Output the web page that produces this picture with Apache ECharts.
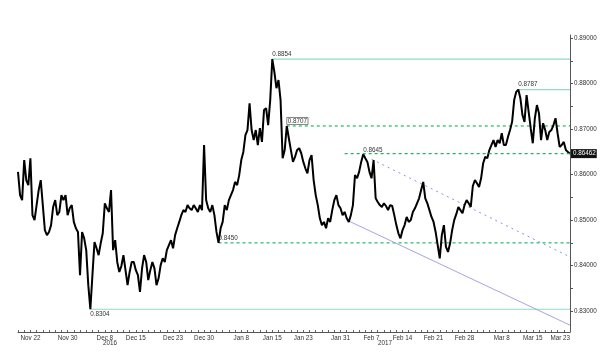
<!DOCTYPE html>
<html><head><meta charset="utf-8">
<script src="https://cdn.jsdelivr.net/npm/echarts@6/dist/echarts.min.js"></script>
<style>html,body{margin:0;padding:0;background:#fff}#c{width:600px;height:364px}</style>
</head><body><div id="c"></div>
<script>
// EUR/GBP, three slots per trading day, Nov 18 2016 - Mar 23 2017
const closes = [
0.8606,0.8555,0.8544,0.8632,0.8588,0.8577,0.8636,0.8511,0.8500,0.8533,
0.8566,0.8588,0.8533,0.8478,0.8467,0.8474,0.8489,0.8529,0.8544,0.8511,
0.8518,0.8555,0.8544,0.8555,0.8511,0.8526,0.8533,0.8496,0.8482,0.8474,
0.8379,0.8474,0.8460,0.8434,0.8357,0.8304,0.8379,0.8452,0.8438,0.8423,
0.8449,0.8471,0.8537,0.8526,0.8518,0.8566,0.8434,0.8456,0.8408,0.8386,
0.8399,0.8423,0.8390,0.8357,0.8386,0.8408,0.8408,0.8390,0.8379,0.8342,
0.8394,0.8423,0.8408,0.8368,0.8390,0.8408,0.8394,0.8357,0.8372,0.8401,
0.8416,0.8408,0.8434,0.8445,0.8456,0.8438,0.8467,0.8482,0.8496,0.8511,
0.8522,0.8518,0.8533,0.8526,0.8522,0.8533,0.8526,0.8518,0.8533,0.8522,
0.8665,0.8544,0.8526,0.8518,0.8533,0.8511,0.8474,0.8450,0.8482,0.8496,
0.8533,0.8522,0.8544,0.8555,0.8566,0.8584,0.8577,0.8599,0.8632,0.8650,
0.8687,0.8698,0.8757,0.8698,0.8676,0.8698,0.8665,0.8702,0.8672,0.8742,
0.8746,0.8709,0.8764,0.8854,0.8826,0.8790,0.8808,0.8764,0.8636,0.8654,
0.8707,0.8680,0.8654,0.8628,0.8639,0.8654,0.8658,0.8647,0.8628,0.8614,
0.8603,0.8632,0.8643,0.8588,0.8555,0.8533,0.8504,0.8489,0.8496,0.8482,
0.8504,0.8496,0.8522,0.8544,0.8555,0.8533,0.8526,0.8511,0.8518,0.8504,
0.8496,0.8511,0.8533,0.8599,0.8592,0.8606,0.8628,0.8645,0.8636,0.8628,
0.8606,0.8592,0.8632,0.8548,0.8540,0.8533,0.8529,0.8537,0.8531,0.8522,
0.8533,0.8531,0.8511,0.8489,0.8471,0.8460,0.8478,0.8489,0.8507,0.8496,
0.8500,0.8518,0.8526,0.8537,0.8548,0.8566,0.8584,0.8548,0.8537,0.8522,
0.8507,0.8496,0.8474,0.8445,0.8416,0.8467,0.8489,0.8441,0.8430,0.8449,
0.8478,0.8500,0.8513,0.8529,0.8522,0.8515,0.8533,0.8544,0.8537,0.8529,
0.8575,0.8588,0.8581,0.8573,0.8592,0.8625,0.8639,0.8636,0.8654,0.8665,
0.8676,0.8661,0.8676,0.8669,0.8691,0.8665,0.8665,0.8683,0.8698,0.8716,
0.8764,0.8782,0.8787,0.8768,0.8731,0.8716,0.8775,0.8738,0.8702,0.8669,
0.8724,0.8753,0.8735,0.8676,0.8713,0.8698,0.8676,0.8694,0.8698,0.8709,
0.8724,0.8691,0.8661,0.8665,0.8672,0.8654,0.8650,0.8646
];
const slotsPerDay = 3;
const tickLabels = ["Nov 22","Nov 30","Dec 8","Dec 15","Dec 23","Dec 30","Jan 8","Jan 15","Jan 23","Jan 31","Feb 7","Feb 14","Feb 21","Feb 28","Mar 8","Mar 15","Mar 23"];
const tickDays   = [2,8,14,19,25,30,36,41,46,52,57,62,67,72,78,83,89];
const yearLabels = ["2016","2017"];
const priceTicks = [0.83,0.84,0.85,0.86,0.87,0.88,0.89];
const priceMinorTicks = [0.835,0.845,0.855,0.865,0.875,0.885];
// horizontal levels: value, slot where the level starts
const levelValues = [0.8854,0.8787,0.8707,0.8646,0.8450,0.8304];
const levelStart  = [123,242,130,158,97,35];
const levelKinds  = ["solid","solid","dashed","dashed","dashed","solid"];
const highLabelValue = 0.8645, highLabelSlot = 167;
const lastPrice = 0.86462;
// trend lines [slot, value]
const trendSolid  = [[160,0.8498],[267,0.8269]];
const trendDashed = [[171,0.8634],[267,0.8419]];

const FONT = 'Liberation Sans';
const FS = 6.3;
const lastIdx = closes.length - 1;
const cats = closes.map((_, i) => String(i));
const labelMap = {};
tickDays.forEach((d, k) => { labelMap[Math.min(d * slotsPerDay, lastIdx)] = tickLabels[k]; });

const MINT = '#8fdcbf', GREEN = '#1fb864';

function segSeries(pts, lineStyle, label0, label1, z) {
  return {
    type: 'line', silent: true, z: z || 2, symbol: 'circle', symbolSize: 0.01, showSymbol: true, showAllSymbol: true,
    itemStyle: { color: 'rgba(0,0,0,0)' }, lineStyle: lineStyle,
    data: pts.map((p, i) => {
      const o = { value: p };
      const lb = i === 0 ? label0 : label1;
      o.label = lb ? Object.assign({ show: true, fontSize: FS, fontFamily: FONT, color: '#333' }, lb) : { show: false };
      return o;
    })
  };
}

const series = [];
levelValues.forEach((v, k) => {
  const dashed = levelKinds[k] === 'dashed';
  const boxed = v === 0.8707;
  const below = v === 0.8304;
  const unlabeled = v === 0.8646;
  const lab = unlabeled ? null : { position: 'right', distance: 0, offset: [0, below ? 5 : -5], formatter: v.toFixed(4) };
  if (boxed) Object.assign(lab, { borderColor: '#666', borderWidth: 0.8, padding: [1, 1, 0, 1], offset: [0, -5] });
  series.push(segSeries([[levelStart[k], v], [lastIdx, v]],
    { color: dashed ? GREEN : MINT, width: dashed ? 1.2 : 1.1, type: dashed ? [3, 3] : 'solid' }, lab, null, unlabeled ? 4 : 2));
});
series.push(segSeries([[lastIdx, lastPrice]], { width: 0 },
  { position: 'right', distance: 1, formatter: lastPrice.toFixed(5), color: '#fff', backgroundColor: '#111', padding: [2, 1, 1, 2] }, null));
series.push(segSeries(trendSolid, { color: '#a7a4e4', width: 1, type: 'solid' }, null, null));
series.push(segSeries(trendDashed, { color: '#8e96dc', width: 1, type: [2, 4] }, null, null));
series.push(segSeries([[highLabelSlot, highLabelValue]], { width: 0 },
  { position: 'right', distance: 0, offset: [0, -4], formatter: highLabelValue.toFixed(4) }, null));
series.push({
  name: 'EUR/GBP', type: 'line', data: closes, symbol: 'none', z: 3,
  lineStyle: { color: '#000', width: 2 }
});

const chart = echarts.init(document.getElementById('c'), null, { renderer: 'canvas' });
chart.setOption({
  animation: false,
  backgroundColor: '#fff',
  textStyle: { fontFamily: FONT },
  grid: { left: 18, right: 30, top: 35, bottom: 32, containLabel: false },
  xAxis: {
    type: 'category', data: cats, boundaryGap: false,
    axisLine: { show: true, lineStyle: { color: '#555', width: 1 } },
    axisTick: { show: true, inside: true, length: 2, interval: (i) => i % slotsPerDay === 0, lineStyle: { color: '#666' } },
    axisLabel: { show: true, interval: (i) => labelMap[i] !== undefined, formatter: (v, i) => labelMap[i] || '',
      fontSize: FS, fontFamily: FONT, color: '#333', margin: 3, alignMaxLabel: 'right' },
    splitLine: { show: false }
  },
  yAxis: {
    type: 'value', position: 'right', min: 0.8254, max: 0.8907,
    axisLine: { show: true, lineStyle: { color: '#555', width: 1 } },
    axisTick: { show: true, length: 3, customValues: priceTicks.concat(priceMinorTicks), lineStyle: { color: '#555' } },
    axisLabel: { show: true, customValues: priceTicks, formatter: (v) => v.toFixed(5), fontSize: FS, fontFamily: FONT, color: '#333', margin: 4 },
    splitLine: { show: false }
  },
  graphic: [
    { type: 'text', x: 110, y: 343, style: { text: yearLabels[0], fontSize: FS, fontFamily: FONT, fill: '#333', align: 'center', verticalAlign: 'middle' } },
    { type: 'text', x: 385, y: 343, style: { text: yearLabels[1], fontSize: FS, fontFamily: FONT, fill: '#333', align: 'center', verticalAlign: 'middle' } }
  ],
  series: series
});
</script>
</body></html>
